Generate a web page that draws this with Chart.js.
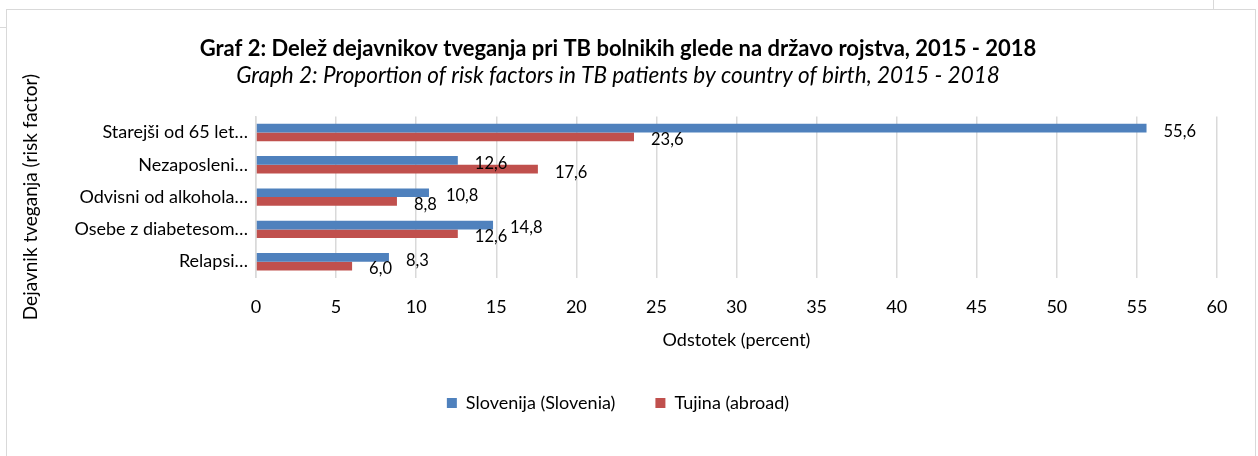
<!DOCTYPE html>
<html>
<head>
<meta charset="utf-8">
<script src="https://cdn.jsdelivr.net/npm/chart.js"></script>
<style>
  body { margin: 0; background: #fff; width: 1258px; height: 456px; overflow: hidden; position: relative; }
  #frame { position: absolute; left: 6px; top: 9px; width: 1250px; height: 460px;
           border: 1px solid #d9d9d9; box-sizing: border-box; }
  #lineL { position: absolute; left: 0; top: 27px; width: 6px; height: 1px; background: #d9d9d9; }
  #lineT { position: absolute; left: 1213px; top: 0; width: 1px; height: 9px; background: #d9d9d9; }
  #box { position: absolute; left: 7px; top: 10px; width: 1248px; height: 446px; }
</style>
</head>
<body>
<div id="lineL"></div>
<div id="lineT"></div>
<div id="frame"></div>
<div id="box"><canvas id="myChart"></canvas></div>
<script>
// podatki z grafa
const categories = ['Starejši od 65 let…', 'Nezaposleni…', 'Odvisni od alkohola…', 'Osebe z diabetesom…', 'Relapsi…'];
const slovenija = [55.6, 12.6, 10.8, 14.8, 8.3];
const tujina = [23.6, 17.6, 8.8, 12.6, 6.0];
const xTicks = [0, 5, 10, 15, 20, 25, 30, 35, 40, 45, 50, 55, 60];

const FONT = 'Lato, "Open Sans", sans-serif';

// oznake vrednosti desno od stolpcev (z vejico kot decimalnim znakom)
const valueLabels = {
  id: 'valueLabels',
  afterDatasetsDraw(chart) {
    const ctx = chart.ctx;
    ctx.save();
    ctx.font = '16.5px ' + FONT;
    ctx.fillStyle = '#000';
    ctx.textBaseline = 'middle';
    ctx.textAlign = 'left';
    chart.data.datasets.forEach((ds, i) => {
      chart.getDatasetMeta(i).data.forEach((bar, j) => {
        const txt = ds.data[j].toFixed(1).replace('.', ',');
        ctx.fillText(txt, bar.x + 17, bar.y + 3);
      });
    });
    ctx.restore();
  }
};

var chartArea = document.getElementById('myChart').getContext('2d');
Chart.defaults.font.family = FONT;
Chart.defaults.color = '#000';

var myChart = new Chart(chartArea, {
  type: 'bar',
  data: {
    labels: categories,
    datasets: [
      {
        label: 'Slovenija (Slovenia)',
        data: slovenija,
        backgroundColor: '#4f81bd',
        borderColor: '#4f81bd',
        barPercentage: 1,
        categoryPercentage: 0.54
      },
      {
        label: 'Tujina (abroad)',
        data: tujina,
        backgroundColor: '#c0504d',
        borderColor: '#c0504d',
        barPercentage: 1,
        categoryPercentage: 0.54
      }
    ]
  },
  options: {
    indexAxis: 'y',
    responsive: true,
    maintainAspectRatio: false,
    animation: false,
    layout: { padding: { left: 12, right: 38, top: 26, bottom: 34 } },
    plugins: {
      title: {
        display: true,
        text: 'Graf 2: Delež dejavnikov tveganja pri TB bolnikih glede na državo rojstva, 2015 - 2018',
        font: { size: 22, weight: 'bold' },
        color: '#000',
        padding: { top: 0, bottom: 0 }
      },
      subtitle: {
        display: true,
        text: 'Graph 2: Proportion of risk factors in TB patients by country of birth, 2015 - 2018',
        font: { size: 22.5, style: 'italic' },
        color: '#000',
        padding: { top: 0, bottom: 27 }
      },
      legend: {
        position: 'bottom',
        labels: {
          boxWidth: 10,
          boxHeight: 10,
          padding: 40,
          font: { size: 18 },
          color: '#000'
        }
      },
      tooltip: { enabled: false }
    },
    scales: {
      x: {
        min: 0,
        max: 60,
        afterBuildTicks: (axis) => { axis.ticks = xTicks.map(v => ({ value: v })); },
        grid: { color: '#d9d9d9', lineWidth: 1.5, drawTicks: false },
        border: { display: false },
        ticks: { font: { size: 18 }, color: '#000', padding: 19 },
        title: {
          display: true,
          text: 'Odstotek (percent)',
          font: { size: 18 },
          color: '#000',
          padding: { top: -8, bottom: 3 }
        }
      },
      y: {
        afterFit: (axis) => { axis.width = 237; },
        grid: { display: false, drawTicks: false },
        border: { display: true, color: '#d9d9d9', width: 1.5 },
        ticks: { font: { size: 18 }, color: '#000', padding: 8 },
        title: {
          display: true,
          text: 'Dejavnik tveganja (risk factor)',
          font: { size: 19 },
          color: '#000',
          padding: { top: 0, bottom: 4 }
        }
      }
    }
  },
  plugins: [valueLabels]
});
</script>
</body>
</html>
